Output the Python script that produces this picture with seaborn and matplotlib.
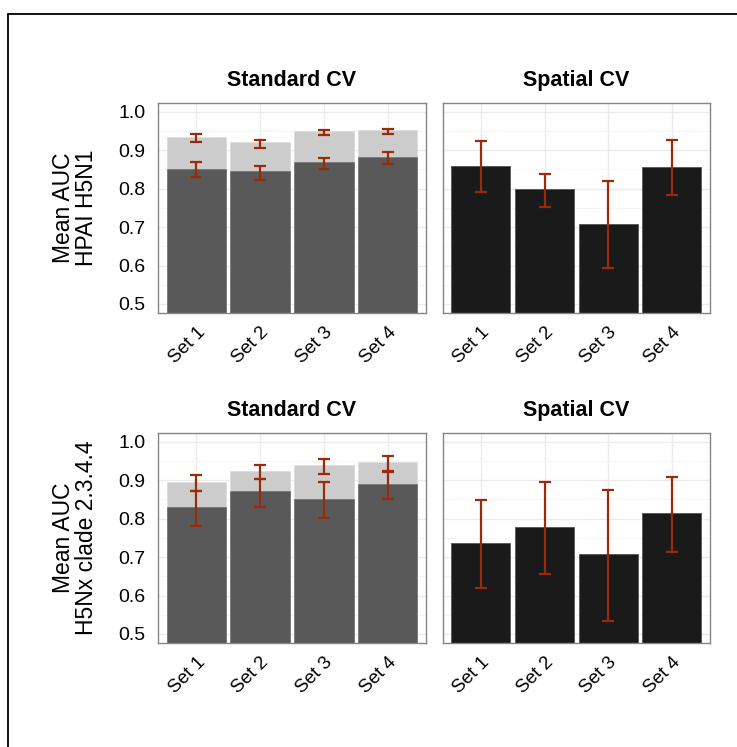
import numpy as np
import pandas as pd
import matplotlib
matplotlib.use('Agg')
import matplotlib.pyplot as plt
from matplotlib.lines import Line2D
from matplotlib.ticker import MultipleLocator
import seaborn as sns

sets = ['Set 1', 'Set 2', 'Set 3', 'Set 4']

# HPAI H5N1, standard CV: light (upper) and dark (lower) bars
h5n1_std_light = [0.935, 0.920, 0.949, 0.952]
h5n1_std_light_lo = [0.922, 0.905, 0.939, 0.943]
h5n1_std_light_hi = [0.942, 0.926, 0.952, 0.955]
h5n1_std_dark = [0.851, 0.845, 0.869, 0.883]
h5n1_std_dark_lo = [0.830, 0.823, 0.852, 0.865]
h5n1_std_dark_hi = [0.869, 0.859, 0.879, 0.895]
# HPAI H5N1, spatial CV
h5n1_sp = [0.860, 0.798, 0.709, 0.857]
h5n1_sp_lo = [0.791, 0.753, 0.593, 0.783]
h5n1_sp_hi = [0.925, 0.837, 0.820, 0.927]
# H5Nx clade 2.3.4.4, standard CV
h5nx_std_light = [0.895, 0.923, 0.939, 0.948]
h5nx_std_light_lo = [0.872, 0.902, 0.916, 0.925]
h5nx_std_light_hi = [0.914, 0.939, 0.955, 0.963]
h5nx_std_dark = [0.829, 0.871, 0.851, 0.890]
h5nx_std_dark_lo = [0.780, 0.829, 0.801, 0.851]
h5nx_std_dark_hi = [0.872, 0.902, 0.894, 0.922]
# H5Nx clade 2.3.4.4, spatial CV
h5nx_sp = [0.737, 0.778, 0.708, 0.815]
h5nx_sp_lo = [0.620, 0.656, 0.534, 0.714]
h5nx_sp_hi = [0.849, 0.894, 0.875, 0.908]

row_labels = ['Mean AUC\nHPAI H5N1', 'Mean AUC\nH5Nx clade 2.3.4.4']

sns.set_style('white')
plt.rcParams['font.family'] = ['Liberation Sans', 'DejaVu Sans']
plt.rcParams['text.color'] = 'black'
plt.rcParams['axes.labelcolor'] = 'black'
plt.rcParams['xtick.color'] = 'black'
plt.rcParams['ytick.color'] = 'black'

LIGHT = '#cccccc'
DARK = '#595959'
BLACK = '#1a1a1a'
ERR = '#992b0b'
W, H = 737, 747

fig = plt.figure(figsize=(W / 100, H / 100), dpi=100)

# outer frame (only top and left visible)
fig.add_artist(Line2D([8 / W, 1], [1 - 14 / H, 1 - 14 / H], transform=fig.transFigure, color='black', lw=1.3))
fig.add_artist(Line2D([8 / W, 8 / W], [0, 1 - 14 / H], transform=fig.transFigure, color='black', lw=1.3))


def make_ax(x0, y0, x1, y1):
    return fig.add_axes([x0 / W, 1 - y1 / H, (x1 - x0) / W, (y1 - y0) / H])


def errbars(ax, lo, hi):
    lo = np.array(lo)
    hi = np.array(hi)
    ax.errorbar(np.arange(len(sets)), (lo + hi) / 2, yerr=(hi - lo) / 2, fmt='none',
                ecolor=ERR, elinewidth=1.6, capsize=4, capthick=1.6, zorder=5)


def style_ax(ax, title, left):
    ax.set_xlim(-0.6, 3.6)
    ax.set_ylim(0.4766, 1.0226)
    ax.yaxis.set_major_locator(MultipleLocator(0.1))
    ax.yaxis.set_minor_locator(MultipleLocator(0.05))
    ax.set_axisbelow(True)
    ax.grid(which='major', color='#ebebeb', lw=1.0)
    ax.grid(which='minor', axis='y', color='#f5f5f5', lw=0.8)
    for s in ax.spines.values():
        s.set_color('#858585')
        s.set_linewidth(1.0)
    ax.set_title(title, fontsize=15.5, fontweight='bold', pad=12)
    ax.set_xlabel('')
    ax.set_ylabel('')
    ax.set_xticks(range(len(sets)))
    ax.set_xticklabels(sets, rotation=45, ha='right', rotation_mode='anchor', fontsize=13.5)
    ax.tick_params(axis='x', which='major', length=5, width=1.3, color='black', pad=3)
    ax.tick_params(axis='y', which='minor', length=0)
    if left:
        ax.set_yticks([0.5, 0.6, 0.7, 0.8, 0.9, 1.0])
        ax.set_yticklabels(['0.5', '0.6', '0.7', '0.8', '0.9', '1.0'], fontsize=14)
        ax.tick_params(axis='y', which='major', length=5, width=1.3, color='black', pad=4)
    else:
        ax.tick_params(axis='y', which='major', length=0, labelleft=False)


rows = [
    (103, 313, h5n1_std_light, h5n1_std_light_lo, h5n1_std_light_hi,
     h5n1_std_dark, h5n1_std_dark_lo, h5n1_std_dark_hi, h5n1_sp, h5n1_sp_lo, h5n1_sp_hi),
    (433, 643, h5nx_std_light, h5nx_std_light_lo, h5nx_std_light_hi,
     h5nx_std_dark, h5nx_std_dark_lo, h5nx_std_dark_hi, h5nx_sp, h5nx_sp_lo, h5nx_sp_hi),
]

for i, (y0, y1, sl, sllo, slhi, sd, sdlo, sdhi, sp, splo, sphi) in enumerate(rows):
    df = pd.DataFrame({'set': sets, 'light': sl, 'dark': sd, 'spatial': sp})

    ax = make_ax(158, y0, 426, y1)
    sns.barplot(data=df, x='set', y='light', color=LIGHT, saturation=1, width=0.93,
                errorbar=None, edgecolor='#dddddd', linewidth=0.6, ax=ax)
    sns.barplot(data=df, x='set', y='dark', color=DARK, saturation=1, width=0.93,
                errorbar=None, edgecolor='#777777', linewidth=0.6, ax=ax)
    errbars(ax, sllo, slhi)
    errbars(ax, sdlo, sdhi)
    style_ax(ax, 'Standard CV', True)
    ax.set_ylabel(row_labels[i], fontsize=16.5, labelpad=15, linespacing=0.95)

    ax2 = make_ax(442.7, y0, 710, y1)
    sns.barplot(data=df, x='set', y='spatial', color=BLACK, saturation=1, width=0.93,
                errorbar=None, edgecolor='#555555', linewidth=0.6, ax=ax2)
    errbars(ax2, splo, sphi)
    style_ax(ax2, 'Spatial CV', False)

fig.savefig('out.png', dpi=100)
